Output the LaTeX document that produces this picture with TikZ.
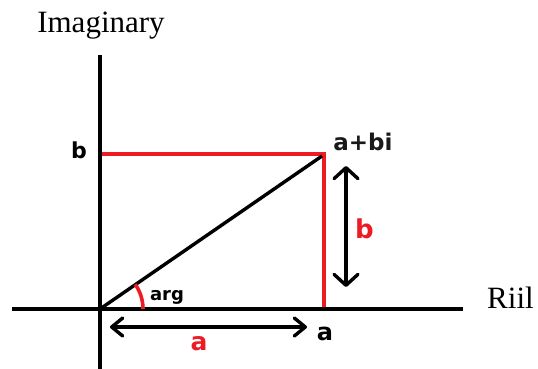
\documentclass[tikz,border=0pt]{standalone}
\usepackage{fontspec}
\setmainfont{Liberation Serif}
\newfontfamily\lblfont{DejaVu Sans}
\usetikzlibrary{arrows.meta}
\definecolor{pred}{HTML}{ED1C24}
\tikzset{
  axisline/.style={line width=4.6pt, black},
  redline/.style={line width=3.6pt, pred},
  vecline/.style={line width=3.4pt, black},
  dimarrow/.style={line width=3.4pt, black, {Straight Barb[length=11pt,width=24pt,round]}-{Straight Barb[length=11pt,width=24pt,round]}},
  dimarrowa/.style={line width=3.4pt, black, {Straight Barb[length=11pt,width=18pt,round]}-{Straight Barb[length=11pt,width=18pt,round]}},
  serif/.style={inner sep=0pt, anchor=base, font=\fontsize{31}{36}\selectfont},
  lbl/.style={inner sep=0pt, anchor=base, font=\lblfont\bfseries\fontsize{#1}{#1}\selectfont},
}
\begin{document}
\begin{tikzpicture}[x=1pt,y=-1pt]
\useasboundingbox (0,0) rectangle (538,369);
% coordinates
\coordinate (O) at (100,309);
\coordinate (Ytop) at (100,55);
\coordinate (Ybot) at (100,369);
\coordinate (Xl) at (12,309);
\coordinate (Xr) at (463,309);
\coordinate (B) at (100,154);
\coordinate (P) at (324,154);
\coordinate (A) at (324,309);
\coordinate (Pd) at (322,156);
\coordinate (bt) at (346,166);
\coordinate (bb) at (346,287);
\coordinate (al) at (110,327);
\coordinate (ar) at (307,327);
% red lines
\draw[redline] (B) -- (P) -- (A);
% axes
\draw[axisline] (Ytop) -- (Ybot);
\draw[axisline] (Xl) -- (Xr);
% vector
\draw[vecline] (O) -- (Pd);
% angle arc
\draw[redline] (143,309) arc[start angle=0, end angle=-35, radius=43];
% dimension arrows
\draw[dimarrow] (bt) -- (bb);
\draw[dimarrowa] (al) -- (ar);
% labels
\node[serif] (imag) at (101,33) {Imaginary};
\node[serif] (riil) at (510.5,308) {Riil};
\node[lbl=22] (lb) at (79,158) {b};
\node[lbl=23, text=black!90] (lz) at (363,150) {a+bi};
\node[lbl=18] (larg) at (167,300) {arg};
\node[lbl=26, text=pred] (lbr) at (364.5,238) {b};
\node[lbl=25, text=pred] (lar) at (199,350) {a};
\node[lbl=24] (la) at (325,340) {a};
\end{tikzpicture}
\end{document}
